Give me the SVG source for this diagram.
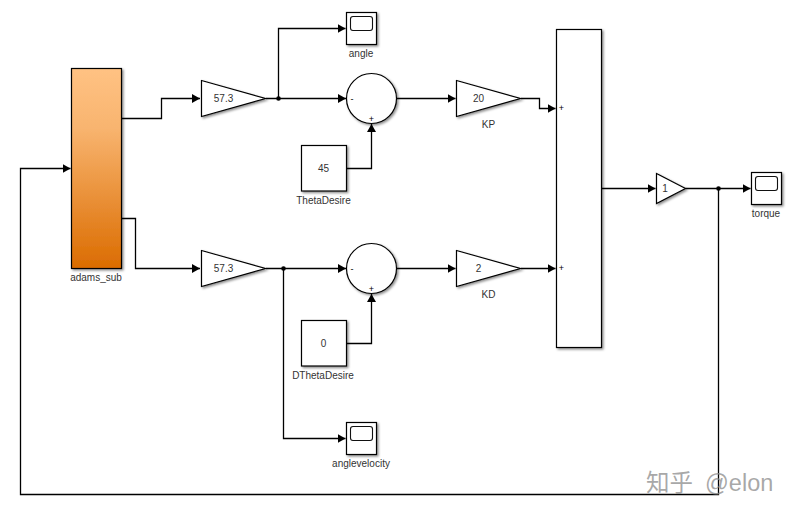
<svg xmlns="http://www.w3.org/2000/svg" width="793" height="515" viewBox="0 0 793 515">
<style>
.b{fill:#fff;stroke:#000;stroke-width:1.2;filter:url(#sh)}
.c{fill:none;stroke:#000;stroke-width:1.3}
.i{fill:none;stroke:#111;stroke-width:1.1}
text{font-family:"Liberation Sans",Arial,sans-serif;font-size:10px;fill:#333;text-anchor:middle}
.s{font-size:9px;fill:#000}
.wm{font-family:"Liberation Sans","Noto Sans CJK SC",sans-serif;font-size:23.5px;fill:#8c8c8c;fill-opacity:.75;text-anchor:start}
.d{fill:#000}
</style>
<defs>
<filter id="sh" x="-20%" y="-20%" width="140%" height="140%"><feDropShadow dx="1.5" dy="1.5" stdDeviation="1" flood-color="#000" flood-opacity=".45"/></filter>
<linearGradient id="og" x1="0" y1="0" x2="0" y2="1"><stop offset="0" stop-color="#ffc283"/><stop offset=".3" stop-color="#f8b46f"/><stop offset="1" stop-color="#db6c00"/></linearGradient>
<marker id="a" markerUnits="userSpaceOnUse" markerWidth="9" markerHeight="10" refX="8" refY="5" orient="auto"><path d="M0 .5L8 5L0 9.500Z" fill="#000"/></marker>
</defs>
<rect width="793" height="515" fill="#fff"/>
<g id="connectors">
<path class="c" marker-end="url(#a)" d="M121.500 118.500H161.500V98.500H200"/>
<path class="c" marker-end="url(#a)" d="M121.500 218.500H135.500V268.500H200"/>
<path class="c" marker-end="url(#a)" d="M278.500 98.500V28.500H345.500"/>
<path class="c" marker-end="url(#a)" d="M266 98.500H346"/>
<path class="c" marker-end="url(#a)" d="M266 268.500H346"/>
<path class="c" marker-end="url(#a)" d="M283.500 268.500V438.500H345.500"/>
<path class="c" marker-end="url(#a)" d="M346.500 168.500H371.500V124"/>
<path class="c" marker-end="url(#a)" d="M346.500 343.500H371.500V294"/>
<path class="c" marker-end="url(#a)" d="M397 98.500H455.500"/>
<path class="c" marker-end="url(#a)" d="M397 268.500H455.500"/>
<path class="c" marker-end="url(#a)" d="M521 98.500H539.500V108.500H555.500"/>
<path class="c" marker-end="url(#a)" d="M521 268.500H555.500"/>
<path class="c" marker-end="url(#a)" d="M602 188.500H655.500"/>
<path class="c" marker-end="url(#a)" d="M685.500 188.500H750.500"/>
<path class="c" marker-end="url(#a)" d="M718.500 188.500V494.500H20.500V168.500H70.500"/>
<circle class="d" cx="278.500" cy="98.500" r="2.300"/>
<circle class="d" cx="283.500" cy="268.500" r="2.300"/>
<circle class="d" cx="718.500" cy="188.500" r="2.300"/>
</g>
<g id="adams_sub"><rect x="71.500" y="68.500" width="50" height="200" fill="url(#og)" stroke="#000" stroke-width="1.200" filter="url(#sh)"/><text x="96" y="281">adams_sub</text></g>
<g id="gain1"><path class="b" d="M201.500 80.500L265.500 98.500L201.500 116.500Z"/><text x="223.500" y="102">57.3</text></g>
<g id="gain2"><path class="b" d="M201.500 250.500L265.500 268.500L201.500 286.500Z"/><text x="223.500" y="272">57.3</text></g>
<g id="angle"><rect class="b" x="346.500" y="12.500" width="30" height="32"/><rect class="i" x="350.500" y="16.500" width="22" height="14" rx="2.500"/><text x="361" y="56.500">angle</text></g>
<g id="anglevelocity"><rect class="b" x="346.500" y="422.500" width="30" height="32"/><rect class="i" x="350.500" y="426.500" width="22" height="14" rx="2.500"/><text x="361" y="466.500">anglevelocity</text></g>
<g id="torque"><rect class="b" x="751.500" y="172.500" width="30" height="32"/><rect class="i" x="755.500" y="176.500" width="22" height="14" rx="2.500"/><text x="766" y="216.500">torque</text></g>
<g id="sum1"><circle class="b" cx="371.500" cy="98.500" r="25"/><text class="s" x="352" y="101.500">-</text><text class="s" x="371.500" y="121.500">+</text></g>
<g id="sum2"><circle class="b" cx="371.500" cy="268.500" r="25"/><text class="s" x="352" y="271.500">-</text><text class="s" x="371.500" y="291.500">+</text></g>
<g id="ThetaDesire"><rect class="b" x="301.500" y="145.500" width="45" height="45.500"/><text x="323.500" y="171.500">45</text><text x="323.500" y="203.500">ThetaDesire</text></g>
<g id="DThetaDesire"><rect class="b" x="301.500" y="320.500" width="45" height="45.500"/><text x="323.500" y="346.500">0</text><text x="323" y="378.500">DThetaDesire</text></g>
<g id="KP"><path class="b" d="M456.500 80.500L520.500 98.500L456.500 116.500Z"/><text x="478.500" y="102">20</text><text x="488.500" y="128">KP</text></g>
<g id="KD"><path class="b" d="M456.500 250.500L520.500 268.500L456.500 286.500Z"/><text x="478.500" y="272">2</text><text x="488.500" y="298">KD</text></g>
<g id="sum3"><rect class="b" x="556.500" y="29.500" width="45" height="318"/><text class="s" x="561.500" y="111">+</text><text class="s" x="561.500" y="271">+</text></g>
<g id="gain3"><path class="b" d="M656.500 173.500L685.500 188.500L656.500 203.500Z"/><text x="665" y="192">1</text></g>
<text class="wm" x="646" y="491">知乎<tspan x="705">@elon</tspan></text>
</svg>
